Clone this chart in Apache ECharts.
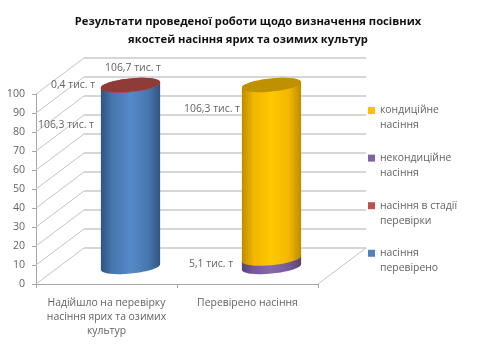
<!DOCTYPE html>
<html>
<head>
<meta charset="utf-8">
<style>
  html, body { margin: 0; padding: 0; background: #fff; }
  #chart { width: 479px; height: 361px; }
</style>
<script src="https://cdn.jsdelivr.net/npm/echarts@6/dist/echarts.min.js"></script>
</head>
<body>
<div id="chart"></div>
<script>
  // data, thousand tonnes
  var categories = ['Надійшло на перевірку\nнасіння ярих та озимих\nкультур', 'Перевірено насіння'];
  var checkedSeed = [106.3, 0];
  var testingSeed = [0.4, 0];
  var nonStandardSeed = [0, 5.1];
  var standardSeed = [0, 106.3];
  var valueTicks = [0, 10, 20, 30, 40, 50, 60, 70, 80, 90, 100];
  var labelTexts = ['0,4 тис. т', '106,7 тис. т', '106,3 тис. т', '106,3 тис. т', '5,1 тис. т'];

  var FONT = '"Open Sans", sans-serif';
  var GREY = '#636363';
  var DEPTH_X = 48, DEPTH_Y = -36;

  var chart = echarts.init(document.getElementById('chart'));

  // 100% stacked, every column is scaled to its own total
  var stack = [checkedSeed, testingSeed, nonStandardSeed, standardSeed];
  function segments(idx) {
    return categories.map(function (c, i) {
      var total = 0, base = 0;
      stack.forEach(function (s, k) {
        total += s[i];
        if (k < idx) base += s[i];
      });
      return [i, base / total * 100, (base + stack[idx][i]) / total * 100, stack[idx][i]];
    });
  }

  function ellipsePoints(cx, cy, a, b, tilt, from, to) {
    var pts = [];
    for (var n = 0; n <= 40; n++) {
      var t = from + (to - from) * n / 40;
      pts.push([cx + a * Math.cos(t), cy + b * Math.sin(t) - tilt * Math.cos(t)]);
    }
    return pts;
  }

  function renderCylinder(dark, mid, light, topColor) {
    return function (params, api) {
      if (!api.value(3)) return null;
      var low = api.coord([api.value(0), api.value(1)]);
      var high = api.coord([api.value(0), api.value(2)]);
      var a = api.size([1, 0])[0] * 0.21;
      var b = 6.6, tilt = 2.8;
      var side = ellipsePoints(low[0], low[1], a, b, tilt, 0, Math.PI)
        .concat(ellipsePoints(high[0], high[1], a, b, tilt, Math.PI, 2 * Math.PI));
      return {
        type: 'group',
        children: [{
          type: 'polygon',
          shape: { points: side },
          style: {
            fill: new echarts.graphic.LinearGradient(0, 0, 1, 0, [
              { offset: 0, color: dark },
              { offset: 0.2, color: mid },
              { offset: 0.5, color: light },
              { offset: 0.8, color: mid },
              { offset: 1, color: dark }
            ])
          }
        }, {
          type: 'polygon',
          shape: { points: ellipsePoints(high[0], high[1], a, b, tilt, 0, 2 * Math.PI) },
          style: { fill: topColor }
        }]
      };
    };
  }

  // walls: diagonal from the front axis, then the line along the back wall
  function renderWall(params, api) {
    var sys = params.coordSys;
    var p = api.coord([0, api.value(0)]);
    var backY = p[1] + DEPTH_Y;
    var left = sys.x, right = sys.x + sys.width;
    var children = [{
      type: 'polyline',
      shape: { points: [[left, p[1]], [left + DEPTH_X, backY]] },
      style: { stroke: '#c4c4c4', lineWidth: 1, fill: null }
    }, {
      type: 'polyline',
      shape: { points: [[left + DEPTH_X, backY], [right + DEPTH_X, backY]] },
      style: { stroke: '#c8c8c8', lineWidth: 1.6, fill: null }
    }];
    if (api.value(0) === 0) {
      children.push({
        type: 'polyline',
        shape: { points: [[right, p[1]], [right + DEPTH_X, backY]] },
        style: { stroke: '#c4c4c4', lineWidth: 1, fill: null }
      });
    }
    return { type: 'group', children: children };
  }

  function cylinderSeries(name, idx, color, dark, mid, light, topColor) {
    return {
      name: name,
      type: 'custom',
      xAxisIndex: 1,
      yAxisIndex: 1,
      itemStyle: { color: color },
      renderItem: renderCylinder(dark, mid, light, topColor),
      encode: { x: 0, y: [1, 2] },
      data: segments(idx),
      z: 3 + idx
    };
  }

  function dataLabel(text, x, y) {
    return {
      type: 'text',
      x: x,
      y: y,
      style: { text: text, font: '10.4px ' + FONT, fill: GREY, textAlign: 'center', textVerticalAlign: 'middle' },
      z: 20
    };
  }

  var legendNames = {
    'кондиційне насіння': ' \nкондиційне\nнасіння',
    'некондиційне насіння': ' \nнекондиційне\nнасіння',
    'насіння в стадії перевірки': ' \nнасіння в стадії\nперевірки',
    'насіння перевірено': ' \nнасіння\nперевірено'
  };

  var option = {
    backgroundColor: '#fff',
    animation: false,
    title: {
      text: 'Результати проведеної роботи щодо визначення посівних\nякостей насіння ярих та озимих культур',
      left: 243,
      top: 8,
      textAlign: 'center',
      textStyle: { fontFamily: FONT, fontSize: 11.2, fontWeight: 'bold', color: '#111', lineHeight: 18 }
    },
    legend: {
      orient: 'vertical',
      left: 368,
      top: 88,
      padding: 0,
      itemWidth: 7,
      itemHeight: 7,
      itemGap: 2.6,
      itemStyle: { borderWidth: 0 },
      icon: 'rect',
      data: ['кондиційне насіння', 'некондиційне насіння', 'насіння в стадії перевірки', 'насіння перевірено'],
      formatter: function (name) { return legendNames[name]; },
      textStyle: { fontFamily: FONT, fontSize: 10.4, color: GREY, lineHeight: 15 }
    },
    grid: [
      { left: 36, top: 94, width: 282, height: 190 },
      { left: 60, top: 85, width: 282, height: 182 }
    ],
    xAxis: [{
      type: 'category',
      data: categories,
      axisLine: { lineStyle: { color: '#a6a6a6' } },
      axisTick: { show: true, length: 4, lineStyle: { color: '#a6a6a6' } },
      axisLabel: { fontFamily: FONT, fontSize: 10.4, color: GREY, lineHeight: 14, margin: 12, interval: 0 }
    }, {
      type: 'category',
      gridIndex: 1,
      data: categories,
      show: false
    }],
    yAxis: [{
      type: 'value',
      min: 0,
      max: 100,
      interval: 10,
      axisLine: { show: true, lineStyle: { color: '#a6a6a6' } },
      axisTick: { show: true, length: 4, lineStyle: { color: '#a6a6a6' } },
      splitLine: { show: false },
      axisLabel: { fontFamily: FONT, fontSize: 10.6, color: GREY, margin: 11, padding: [5, 0, 0, 0] }
    }, {
      type: 'value',
      gridIndex: 1,
      min: 0,
      max: 100,
      show: false,
      splitLine: { show: false }
    }],
    graphic: [
      dataLabel(labelTexts[0], 73, 85),
      dataLabel(labelTexts[1], 133, 68),
      dataLabel(labelTexts[2], 66, 125),
      dataLabel(labelTexts[3], 212, 109),
      dataLabel(labelTexts[4], 211, 264)
    ],
    series: [
      {
        type: 'custom',
        silent: true,
        renderItem: renderWall,
        encode: { y: 0 },
        data: valueTicks.map(function (v) { return [v]; }),
        z: 1
      },
      cylinderSeries('насіння перевірено', 0, '#4F81BD', '#2f5482', '#4777b0', '#5689c8', '#3f6797'),
      cylinderSeries('насіння в стадії перевірки', 1, '#C0504D', '#8a3a38', '#b04a47', '#c0504d', '#8f3b38'),
      cylinderSeries('некондиційне насіння', 2, '#8064A2', '#574370', '#75599a', '#8569a8', '#664f82'),
      cylinderSeries('кондиційне насіння', 3, '#FFC000', '#bd8d00', '#f2b600', '#ffc800', '#bf9000')
    ]
  };

  chart.setOption(option);
</script>
</body>
</html>
